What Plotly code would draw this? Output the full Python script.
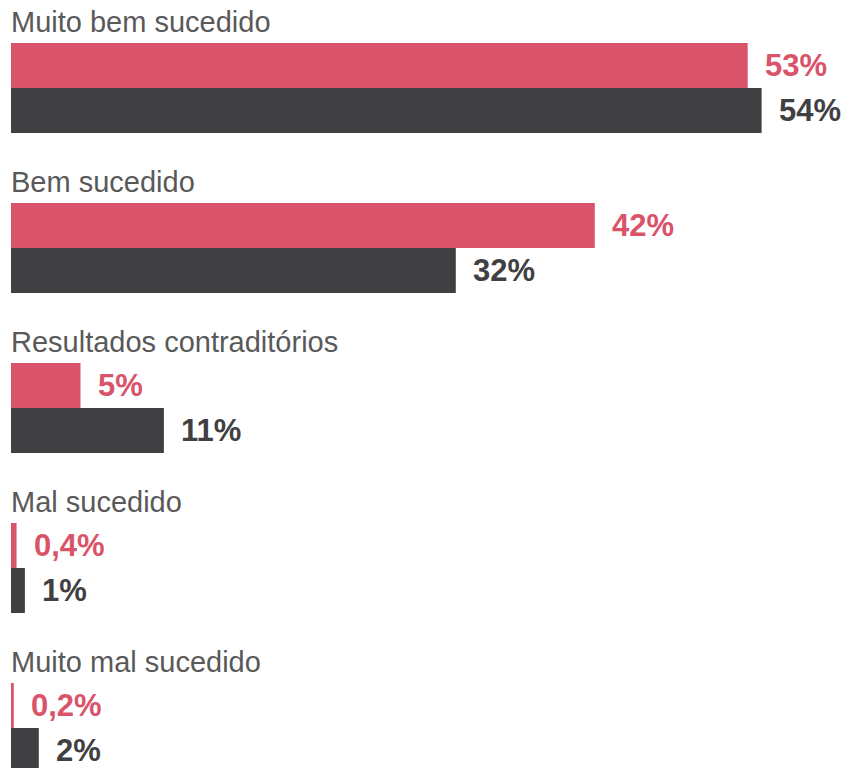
import plotly.graph_objects as go

categories = ["Muito bem sucedido", "Bem sucedido", "Resultados contraditórios",
              "Mal sucedido", "Muito mal sucedido"]
series_a = [53, 42, 5, 0.4, 0.2]
series_b = [54, 32, 11, 1, 2]
labels_a = ["53%", "42%", "5%", "0,4%", "0,2%"]
labels_b = ["54%", "32%", "11%", "1%", "2%"]

PINK = "#D9536A"
DARK = "#404042"
LABEL_GRAY = "#595959"
FONT = "Liberation Sans, Arial, sans-serif"

PAGE_MARGIN = 8  # default body margin of the html page
W, H = 849 - PAGE_MARGIN, 768 - PAGE_MARGIN
PITCH = 160
OFF_LABEL = 22
OFF_A = 65.5
OFF_B = 110.5
BAR_W = 45

ya = [i * PITCH + OFF_A for i in range(len(categories))]
yb = [i * PITCH + OFF_B for i in range(len(categories))]

fig = go.Figure()
fig.add_trace(go.Bar(x=series_a, y=ya, orientation="h", width=BAR_W,
                     marker=dict(color=PINK, line=dict(width=0)), hoverinfo="skip"))
fig.add_trace(go.Bar(x=series_b, y=yb, orientation="h", width=BAR_W,
                     marker=dict(color=DARK, line=dict(width=0)), hoverinfo="skip"))

ann = []
for i, c in enumerate(categories):
    ann.append(dict(x=0, y=i * PITCH + OFF_LABEL, xref="x", yref="y", text=c,
                    showarrow=False, xanchor="left", yanchor="middle", xshift=-2,
                    font=dict(family=FONT, size=29, color=LABEL_GRAY)))
    ann.append(dict(x=series_a[i], y=ya[i], xref="x", yref="y", text="<b>%s</b>" % labels_a[i],
                    showarrow=False, xanchor="left", yanchor="middle", xshift=15,
                    font=dict(family=FONT, size=31, color=PINK)))
    ann.append(dict(x=series_b[i], y=yb[i], xref="x", yref="y", text="<b>%s</b>" % labels_b[i],
                    showarrow=False, xanchor="left", yanchor="middle", xshift=15,
                    font=dict(family=FONT, size=31, color=DARK)))

fig.update_layout(
    width=W, height=H,
    margin=dict(l=3, r=4, t=0, b=0),
    paper_bgcolor="white", plot_bgcolor="white",
    showlegend=False, barmode="overlay",
    xaxis=dict(range=[0, 60], visible=False, fixedrange=True),
    yaxis=dict(range=[768, PAGE_MARGIN], visible=False, fixedrange=True),
    annotations=ann,
)
fig.write_html("out.html")
